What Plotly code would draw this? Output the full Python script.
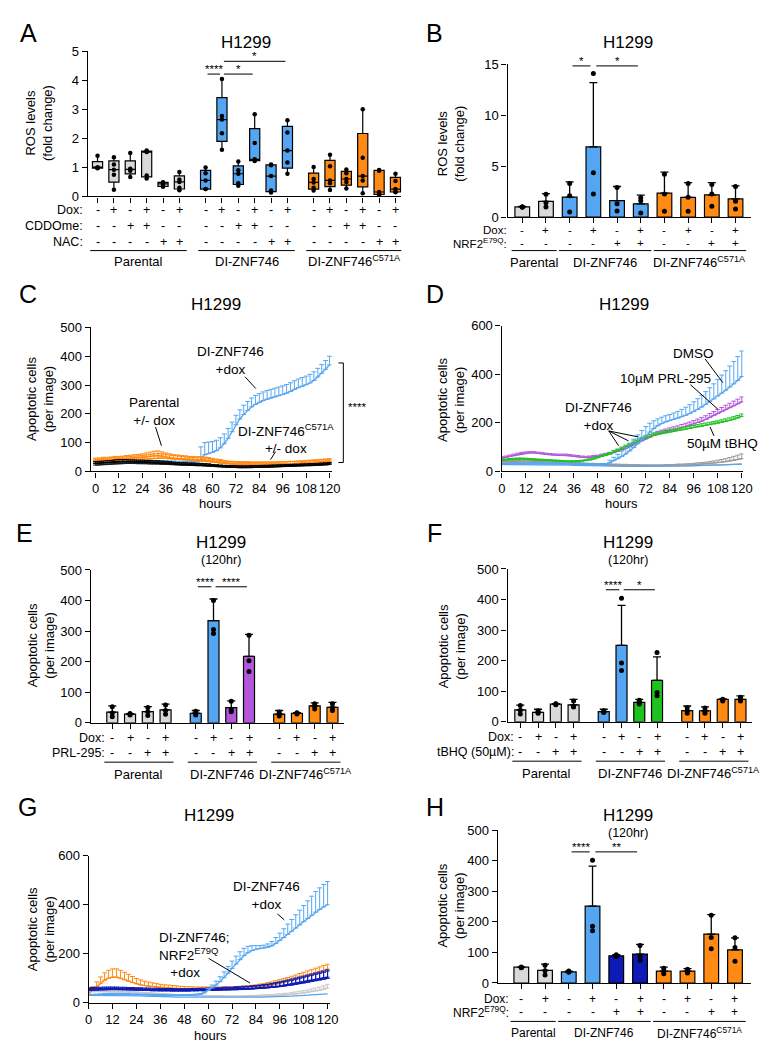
import plotly.graph_objects as go

W, H = 773, 1050
FONT = "Liberation Sans, Arial, Helvetica, sans-serif"

GREY = "#d9d9d9"
BLUE = "#55a6f2"
ORANGE = "#ff8a14"
PURPLE = "#b455dc"
GREEN = "#1ec21e"
DKBLUE = "#0d1ab5"
LGREY = "#c8c8c8"
MGREY = "#9a9a9a"

TICK_FS = 13
ROW_FS = 12.5
GROUP_FS = 13
TITLE_FS = 17
LETTER_FS = 25
YTITLE_FS = 13
LABEL_FS = 13.5

# ---------------- Panel A (box plots) ----------------
A_GROUPS = ["Parental", "DI-ZNF746", "DI-ZNF746<sup>C571A</sup>"]
A_DOX = ["-", "+", "-", "+", "-", "+", "-", "+", "-", "+", "-", "+", "-", "+", "-", "+", "-", "+"]
A_CDDO = ["-", "-", "+", "+", "-", "-", "-", "-", "+", "+", "-", "-", "-", "-", "+", "+", "-", "-"]
A_NAC = ["-", "-", "-", "-", "+", "+", "-", "-", "-", "-", "+", "+", "-", "-", "-", "-", "+", "+"]
A_POINTS = [
    [0.97, 0.98, 1.0, 1.0, 1.40],
    [0.23, 0.75, 0.92, 1.1, 1.35],
    [0.67, 0.88, 0.93, 0.95, 1.50],
    [0.62, 0.72, 1.53, 1.55, 1.58],
    [0.33, 0.36, 0.43, 0.47, 0.49],
    [0.21, 0.30, 0.50, 0.58, 0.84],
    [0.25, 0.25, 0.55, 0.80, 1.00],
    [1.61, 2.18, 2.65, 2.77, 4.05],
    [0.37, 0.45, 0.78, 0.90, 1.20],
    [1.22, 1.25, 1.28, 1.84, 2.83],
    [0.13, 0.20, 0.70, 1.07, 1.10],
    [0.78, 1.17, 1.58, 2.20, 2.63],
    [0.20, 0.30, 0.48, 0.60, 1.01],
    [0.22, 0.45, 0.55, 1.04, 1.44],
    [0.27, 0.50, 0.60, 0.80, 0.93],
    [0.11, 0.55, 0.70, 1.33, 3.01],
    [0.03, 0.10, 0.15, 0.88, 0.91],
    [0.14, 0.16, 0.25, 0.53, 0.78],
]
A_YTICKS = [0, 1, 2, 3, 4, 5]

# ---------------- Panel B (bars) ----------------
B_GROUPS = ["Parental", "DI-ZNF746", "DI-ZNF746<sup>C571A</sup>"]
B_DOX = ["-", "+", "-", "+", "-", "+", "-", "+", "-", "+"]
B_NRF2 = ["-", "-", "-", "-", "+", "+", "-", "-", "+", "+"]
B_MEAN = [1.0, 1.55, 1.95, 6.9, 1.62, 1.3, 2.35, 1.94, 2.17, 1.78]
B_ERR = [0.05, 0.75, 1.5, 6.3, 1.38, 0.85, 2.07, 1.45, 1.22, 1.29]
B_POINTS = [[1.0, 1.0, 1.0], [1.0, 1.4, 2.25], [0.5, 2.1, 3.3], [2.26, 4.35, 14.1], [0.6, 1.3, 2.9],
            [0.4, 1.6, 1.9], [0.58, 2.26, 4.2], [0.58, 1.94, 3.3], [1.06, 2.26, 3.2], [0.8, 1.55, 3.0]]
B_YTICKS = [0, 5, 10, 15]

# ---------------- Panel E ----------------
E_DOX = ["-", "+", "-", "+", "-", "+", "-", "+", "-", "+", "-", "+"]
E_PRL = ["-", "-", "+", "+", "-", "-", "+", "+", "-", "-", "+", "+"]
E_MEAN = [35, 28, 36.6, 42, 31, 334, 49.5, 217, 28, 31, 55, 50.5]
E_ERR = [20, 2, 16, 19, 9, 71, 22, 72, 12, 2, 10, 16]
E_POINTS = [[20, 32, 52], [25, 28, 30], [24, 36, 50], [28, 40, 58], [25, 30, 38], [292, 305, 400],
            [36, 42, 70], [168, 203, 286], [22, 28, 35], [29, 31, 33], [45, 55, 62], [40, 50, 62]]

# ---------------- Panel F ----------------
F_DOX = ["-", "+", "-", "+", "-", "+", "-", "+", "-", "+", "-", "+"]
F_TBHQ = ["-", "-", "+", "+", "-", "-", "+", "+", "-", "-", "+", "+"]
F_MEAN = [38.7, 31, 58, 55, 33, 250, 63.4, 135.5, 36.6, 36, 73, 73]
F_ERR = [16, 10, 1, 18, 8, 131, 10, 77, 15, 13, 2, 12]
F_POINTS = [[25, 38, 53], [28, 30, 36], [56, 58, 59], [48, 50, 68], [30, 33, 36], [168, 192, 404],
            [58, 62, 70], [85, 96, 227], [28, 36, 46], [28, 35, 45], [68, 72, 74], [68, 70, 80]]

# ---------------- Panel H ----------------
H_DOX = ["-", "+", "-", "+", "-", "+", "-", "+", "-", "+"]
H_NRF2 = ["-", "-", "-", "-", "+", "+", "-", "-", "+", "+"]
H_MEAN = [51.6, 41, 36.6, 251.6, 89, 94.6, 38.7, 38.7, 160, 108.6]
H_ERR = [1, 21, 2.5, 131, 3.6, 32, 13, 8, 64, 39]
H_POINTS = [[50, 51, 52], [26, 40, 58], [35, 37, 39], [171, 186, 402], [87, 89, 92], [74, 86, 123],
            [30, 38, 48], [33, 38, 45], [112, 149, 222], [71, 116, 148]]

APOP_YTICKS = [0, 100, 200, 300, 400, 500]
TS_YTICKS = [0, 200, 400, 600]
HOUR_TICKS = [0, 12, 24, 36, 48, 60, 72, 84, 96, 108, 120]
HOURS = list(range(0, 121, 2))

# ---------------- Panel C (time course) ----------------
C_DI_DOX = [32, 33, 34, 35, 36, 36, 37, 37, 38, 38, 38, 37, 37, 36, 36, 35, 35, 34, 34, 33, 33, 32, 32, 32, 31, 31, 32,
            40, 58, 62, 66, 72, 82, 96, 115, 138, 162, 182, 198, 212, 224, 233, 240, 246, 251, 255, 259, 263, 267,
            272, 278, 285, 291, 296, 301, 307, 316, 328, 341, 355, 370]
C_DI_DOX_ERR = [3, 3, 3, 3, 3, 3, 3, 3, 3, 3, 3, 3, 3, 3, 3, 3, 3, 3, 3, 3, 3, 3, 3, 3, 3, 3, 3,
                45, 42, 40, 38, 36, 35, 34, 34, 33, 33, 32, 32, 31, 31, 31, 30, 30, 30, 30, 30, 30, 30, 30, 30,
                30, 30, 30, 30, 30, 30, 30, 30, 30, 30]
C_DI_NODOX = [30, 30, 31, 31, 32, 32, 32, 32, 32, 31, 31, 30, 30, 29, 29, 28, 28, 27, 27, 26, 26, 25, 25, 24, 24, 23,
              23, 22, 22, 21, 21, 20, 20, 19, 19, 18, 18, 18, 18, 18, 18, 18, 19, 19, 19, 20, 20, 20, 21, 21, 21,
              22, 22, 22, 23, 23, 23, 24, 24, 25, 25]
C_PAR_DOX = [38, 39, 40, 40, 41, 42, 42, 43, 44, 45, 46, 47, 48, 50, 52, 54, 55, 53, 50, 48, 46, 45, 44, 43, 42, 42,
             41, 41, 40, 38, 36, 34, 32, 30, 28, 27, 26, 26, 26, 26, 25, 25, 25, 25, 25, 25, 25, 26, 26, 26, 27,
             27, 28, 29, 30, 31, 32, 33, 34, 35, 36]
C_PAR_ERR = [8, 8, 9, 9, 9, 10, 10, 10, 11, 11, 12, 12, 13, 14, 15, 16, 16, 15, 14, 13, 12, 12, 11, 11, 10, 10, 10,
             10, 10, 10, 9, 9, 9, 8, 8, 8, 8, 8, 8, 8, 8, 8, 8, 8, 8, 8, 8, 8, 8, 8, 8, 8, 8, 8, 8, 8, 8, 8, 8,
             8, 8]
C_PAR_NODOX = [34, 35, 36, 37, 38, 39, 39, 40, 40, 41, 41, 42, 42, 43, 44, 45, 46, 46, 45, 44, 43, 42, 41, 40, 39,
               38, 38, 37, 36, 35, 33, 31, 29, 27, 26, 25, 24, 23, 23, 23, 23, 23, 23, 23, 23, 24, 24, 24, 25, 25,
               26, 26, 27, 27, 28, 29, 30, 31, 32, 33, 34]
C_MUT_NODOX = [28, 29, 30, 31, 32, 33, 34, 34, 34, 33, 33, 32, 32, 31, 31, 30, 30, 29, 28, 27, 26, 25, 24, 24, 23,
               23, 22, 22, 21, 20, 19, 18, 17, 16, 15, 15, 14, 14, 14, 14, 15, 15, 15, 16, 16, 17, 17, 18, 18, 19,
               19, 20, 20, 21, 21, 22, 22, 23, 24, 25, 26]
C_MUT_ERR = [6, 6, 6, 6, 6, 7, 7, 7, 7, 7, 7, 7, 7, 7, 7, 7, 7, 7, 7, 7, 6, 6, 6, 6, 6, 6, 6, 6, 6, 6, 5, 5, 5, 5,
             5, 5, 5, 5, 5, 5, 5, 5, 5, 5, 5, 5, 5, 5, 5, 5, 5, 5, 5, 5, 5, 5, 5, 5, 5, 5, 5]
C_MUT_DOX = [22, 23, 24, 25, 26, 27, 27, 28, 28, 28, 28, 27, 27, 27, 26, 26, 26, 25, 25, 24, 24, 23, 22, 22, 21, 21,
             20, 20, 19, 19, 18, 17, 16, 15, 15, 14, 14, 13, 13, 13, 13, 14, 14, 14, 15, 15, 16, 16, 17, 17, 18,
             18, 19, 19, 20, 20, 21, 21, 22, 23, 24]

# ---------------- Panel D (time course) ----------------
D_DMSO = [30, 30, 31, 31, 32, 32, 32, 33, 33, 33, 33, 32, 32, 32, 31, 31, 31, 30, 30, 30, 29, 29, 29, 28, 28, 29, 30,
          36, 44, 52, 62, 72, 84, 98, 114, 130, 146, 162, 176, 188, 197, 204, 209, 214, 219, 225, 231, 238, 246,
          255, 265, 276, 287, 298, 310, 322, 334, 347, 360, 374, 390]
D_DMSO_ERR = [3, 3, 3, 3, 3, 3, 3, 3, 3, 3, 3, 3, 3, 3, 3, 3, 3, 3, 3, 3, 3, 3, 3, 3, 3, 3, 3, 10, 14, 18, 22, 26,
              30, 34, 36, 38, 38, 36, 32, 28, 26, 25, 25, 26, 28, 30, 33, 36, 40, 44, 48, 52, 57, 62, 68, 74, 80,
              86, 92, 98, 105]
D_PRL = [55, 58, 62, 66, 70, 73, 75, 76, 76, 74, 72, 70, 68, 67, 66, 66, 66, 64, 62, 60, 58, 57, 58, 60, 62, 65, 68,
         72, 77, 82, 88, 95, 102, 110, 118, 126, 134, 141, 148, 154, 159, 163, 167, 171, 175, 180, 185, 190, 195,
         201, 207, 214, 222, 230, 238, 246, 254, 262, 270, 278, 286]
D_PRL_ERR = [5, 5, 5, 5, 5, 5, 5, 5, 5, 5, 5, 5, 5, 5, 5, 5, 5, 5, 5, 5, 5, 5, 5, 5, 5, 6, 6, 6, 7, 7, 8, 8, 8, 9, 9,
             9, 10, 10, 10, 11, 11, 11, 12, 12, 12, 13, 13, 13, 14, 14, 15, 15, 16, 16, 17, 17, 18, 18, 19, 19, 20]
D_TBHQ = [45, 47, 49, 50, 51, 51, 50, 49, 48, 47, 46, 45, 44, 43, 42, 41, 40, 40, 40, 41, 42, 44, 47, 51, 56, 61, 66,
          72, 78, 85, 92, 100, 108, 116, 124, 131, 137, 143, 148, 152, 156, 159, 162, 165, 168, 171, 174, 177, 180,
          183, 186, 189, 192, 195, 198, 202, 206, 210, 215, 220, 226]
D_TBHQ_ERR = [4, 4, 4, 4, 4, 4, 4, 4, 4, 4, 4, 4, 4, 4, 4, 4, 4, 4, 4, 4, 4, 4, 5, 5, 5, 6, 6, 6, 7, 7, 8, 8, 8, 9,
              9, 9, 9, 9, 9, 9, 9, 9, 9, 9, 9, 9, 9, 9, 9, 9, 10, 10, 10, 10, 10, 10, 10, 10, 10, 10, 10]
D_GREY1 = [40, 40, 41, 42, 42, 43, 43, 43, 42, 42, 41, 41, 40, 39, 38, 37, 36, 35, 34, 33, 32, 31, 30, 30, 29, 29, 28,
           28, 27, 27, 26, 26, 25, 25, 25, 24, 24, 24, 24, 24, 24, 25, 25, 25, 26, 26, 27, 27, 28, 29, 30, 31, 32,
           34, 36, 38, 40, 43, 46, 49, 52]
D_GREY1_ERR = [3, 3, 3, 3, 3, 3, 3, 3, 3, 3, 3, 3, 3, 3, 3, 3, 3, 3, 3, 3, 3, 3, 3, 3, 3, 3, 3, 3, 3, 3, 3, 3, 3, 3,
               3, 3, 3, 3, 3, 3, 3, 3, 3, 3, 4, 4, 4, 5, 5, 6, 6, 7, 8, 9, 10, 11, 12, 14, 16, 18, 20]
D_GREY2 = [35, 36, 37, 38, 38, 39, 39, 39, 38, 38, 37, 37, 36, 35, 34, 33, 32, 31, 30, 29, 28, 27, 27, 26, 26, 25, 25,
           24, 24, 23, 23, 22, 22, 22, 21, 21, 21, 21, 21, 21, 21, 22, 22, 22, 23, 23, 23, 24, 24, 24, 25, 25, 26,
           26, 27, 27, 28, 28, 29, 29, 30]
D_BLUE_NODOX = [28, 28, 28, 29, 29, 29, 29, 29, 29, 28, 28, 28, 27, 27, 27, 26, 26, 26, 25, 25, 25, 24, 24, 24, 23,
                23, 23, 22, 22, 22, 21, 21, 21, 20, 20, 20, 20, 20, 20, 21, 21, 21, 22, 22, 22, 23, 23, 23, 24, 24,
                25, 25, 26, 26, 27, 27, 28, 28, 29, 29, 30]

# ---------------- Panel G (time course) ----------------
G_DI = [30, 31, 32, 33, 34, 35, 35, 35, 35, 34, 34, 33, 33, 32, 32, 31, 31, 30, 30, 30, 29, 29, 29, 29, 30, 30, 31,
        32, 34, 40, 50, 60, 72, 86, 102, 120, 140, 158, 176, 192, 204, 213, 218, 221, 223, 226, 232, 242, 254, 266,
        279, 292, 305, 318, 331, 344, 357, 370, 381, 391, 400]
G_DI_ERR = [3, 3, 3, 3, 3, 3, 3, 3, 3, 3, 3, 3, 3, 3, 3, 3, 3, 3, 3, 3, 3, 3, 3, 3, 3, 3, 3, 3, 3, 5, 8, 12, 16, 20,
            24, 28, 30, 32, 32, 30, 26, 20, 15, 12, 12, 14, 18, 24, 30, 36, 42, 48, 54, 60, 66, 72, 78, 84, 88, 92,
            95]
G_MUT = [40, 50, 65, 80, 92, 100, 104, 104, 100, 94, 88, 82, 77, 73, 70, 68, 66, 64, 62, 61, 60, 59, 58, 57, 56, 55,
         55, 54, 54, 54, 54, 54, 54, 54, 55, 55, 55, 56, 57, 58, 59, 60, 62, 64, 66, 69, 72, 76, 80, 84, 88, 92, 97,
         102, 107, 112, 117, 122, 127, 132, 137]
G_MUT_ERR = [10, 15, 20, 25, 30, 32, 34, 34, 32, 30, 28, 25, 22, 20, 18, 16, 15, 14, 13, 12, 12, 11, 11, 10, 10, 10,
             10, 10, 10, 10, 10, 10, 10, 10, 10, 10, 10, 10, 10, 10, 10, 11, 11, 12, 12, 13, 13, 14, 14, 15, 15, 16,
             16, 17, 17, 18, 18, 19, 19, 20, 20]
G_NRF2_DOX = [55, 56, 57, 57, 58, 58, 58, 58, 57, 57, 56, 56, 55, 55, 54, 54, 53, 53, 52, 52, 52, 52, 51, 51, 51, 51,
              52, 52, 53, 53, 53, 53, 54, 54, 55, 55, 55, 56, 56, 57, 57, 58, 59, 60, 61, 62, 64, 66, 68, 71, 74, 77,
              80, 83, 86, 89, 92, 95, 98, 101, 104]
G_NRF2_ERR = [6, 6, 6, 6, 6, 6, 6, 6, 6, 6, 6, 6, 6, 6, 6, 6, 6, 6, 6, 6, 6, 6, 6, 6, 6, 6, 6, 6, 6, 6, 7, 7, 7, 7,
              8, 8, 8, 9, 9, 10, 10, 11, 11, 12, 13, 14, 15, 16, 17, 18, 19, 20, 21, 22, 23, 24, 25, 26, 27, 28, 30]
G_NRF2_NODOX = [50, 51, 52, 53, 53, 54, 54, 54, 53, 53, 52, 52, 51, 51, 50, 50, 49, 49, 48, 48, 48, 47, 47, 47, 47,
                47, 48, 48, 49, 49, 50, 50, 51, 51, 52, 52, 53, 53, 54, 54, 55, 56, 57, 58, 59, 60, 62, 64, 66, 68,
                70, 72, 75, 78, 81, 84, 87, 90, 93, 96, 99]
G_GREY = [45, 45, 46, 46, 46, 46, 45, 45, 44, 44, 43, 42, 41, 40, 39, 38, 37, 36, 35, 34, 33, 32, 31, 30, 30, 29, 29,
          28, 28, 27, 27, 26, 26, 26, 25, 25, 25, 25, 25, 25, 26, 26, 26, 27, 27, 28, 28, 29, 30, 31, 32, 34, 36,
          38, 40, 42, 45, 48, 51, 55, 60]
G_GREY_ERR = [3, 3, 3, 3, 3, 3, 3, 3, 3, 3, 3, 3, 3, 3, 3, 3, 3, 3, 3, 3, 3, 3, 3, 3, 3, 3, 3, 3, 3, 3, 3, 3, 3, 3,
              3, 3, 3, 3, 3, 3, 3, 4, 4, 4, 5, 5, 5, 6, 6, 7, 7, 8, 8, 9, 9, 10, 11, 12, 13, 14, 15]
G_BLUE_NODOX = [30, 30, 31, 31, 31, 31, 31, 30, 30, 30, 29, 29, 28, 28, 27, 27, 26, 26, 25, 25, 24, 24, 23, 23, 22,
                22, 22, 21, 21, 21, 20, 20, 20, 20, 20, 20, 20, 21, 21, 21, 22, 22, 22, 23, 23, 24, 24, 25, 25, 26,
                27, 27, 28, 29, 30, 31, 32, 33, 34, 35, 36]


# ====================== helpers ======================
def fx(px):
    return px / W


def fy(py):
    return 1 - py / H


fig = go.Figure()
shapes = []
annotations = []


def sfx(n):
    return "" if n == 1 else str(n)


def txt(text, xpx, ypx, size=12.5, xanchor="center", yanchor="middle", **kw):
    d = dict(text=text, x=fx(xpx), y=fy(ypx), xref="paper", yref="paper", showarrow=False,
             font=dict(size=size, family=FONT, color="black"), xanchor=xanchor, yanchor=yanchor)
    d.update(kw)
    annotations.append(d)


def seg(x0, y0, x1, y1, w=1.0):
    shapes.append(dict(type="line", xref="paper", yref="paper", x0=fx(x0), y0=fy(y0), x1=fx(x1), y1=fy(y1),
                       line=dict(color="black", width=w)))


AX = dict(showline=True, linecolor="black", linewidth=1.3, ticks="outside", ticklen=5, tickwidth=1.3,
          tickcolor="black", showgrid=False, zeroline=False, fixedrange=True, tickangle=0,
          tickfont=dict(size=TICK_FS, family=FONT, color="black"))


def setup_axis(n, xdom, ydom, xrange, yrange, xtickvals, ytickvals, xlabels):
    s = sfx(n)
    fig.update_layout(**{
        "xaxis" + s: dict(AX, domain=[fx(xdom[0]), fx(xdom[1])], range=xrange, anchor="y" + s,
                          tickmode="array", tickvals=xtickvals, showticklabels=xlabels),
        "yaxis" + s: dict(AX, domain=[fy(ydom[0]), fy(ydom[1])], range=yrange, anchor="x" + s,
                          tickmode="array", tickvals=ytickvals),
    })


def cat_range(dom, first_px, slot_px):
    return [(dom[0] - first_px) / slot_px, (dom[1] - first_px) / slot_px]


def add_rows(n, pos, rows, label_right_px, size=ROW_FS):
    s = sfx(n)
    for label, signs, py in rows:
        txt(label, label_right_px, py, size=size, xanchor="right")
        for p, sg in zip(pos, signs):
            annotations.append(dict(text=sg, x=p, xref="x" + s, y=fy(py), yref="paper", showarrow=False,
                                    font=dict(size=size, family=FONT, color="black"),
                                    xanchor="center", yanchor="middle"))


def add_groups(n, pos, sizes, names, line_py, label_py, size=GROUP_FS):
    s = sfx(n)
    idx = 0
    for sz, name in zip(sizes, names):
        a, b = pos[idx], pos[idx + sz - 1]
        shapes.append(dict(type="line", xref="x" + s, yref="paper", x0=a - 0.45, x1=b + 0.45,
                           y0=fy(line_py), y1=fy(line_py), line=dict(color="black", width=1)))
        annotations.append(dict(text=name, x=(a + b) / 2, xref="x" + s, y=fy(label_py), yref="paper",
                                showarrow=False, font=dict(size=size, family=FONT, color="black"),
                                xanchor="center", yanchor="middle"))
        idx += sz


def add_sig(n, pos, sigs):
    s = sfx(n)
    for a, b, yv, star in sigs:
        shapes.append(dict(type="line", xref="x" + s, yref="y" + s, x0=pos[a] + 0.12, x1=pos[b] - 0.12,
                           y0=yv, y1=yv, line=dict(color="black", width=1)))
        annotations.append(dict(text=star, x=(pos[a] + pos[b]) / 2, xref="x" + s, y=yv, yref="y" + s,
                                showarrow=False, font=dict(size=11.5, family=FONT, color="black"),
                                xanchor="center", yanchor="bottom", yshift=-3))


def add_bars(n, pos, means, errs, points, colors):
    s = sfx(n)
    fig.add_trace(go.Bar(x=pos, y=means, xaxis="x" + s, yaxis="y" + s, width=0.62,
                         marker=dict(color=colors, line=dict(color="black", width=1.2)),
                         error_y=dict(type="data", array=errs, arrayminus=[0] * len(errs), symmetric=False,
                                      color="black", thickness=1.3, width=4),
                         showlegend=False, hoverinfo="skip"))
    px_, py_ = [], []
    for p, pts in zip(pos, points):
        for v in pts:
            px_.append(p)
            py_.append(v)
    fig.add_trace(go.Scatter(x=px_, y=py_, xaxis="x" + s, yaxis="y" + s, mode="markers",
                             marker=dict(color="black", size=5), cliponaxis=False, showlegend=False,
                             hoverinfo="skip"))


def add_line(n, vals, color, err=None, width=1.3):
    s = sfx(n)
    x = HOURS[:len(vals)]
    kw = {}
    if err is not None:
        kw["error_y"] = dict(type="data", array=err, arrayminus=[0] * len(err), symmetric=False,
                             color=color, thickness=1, width=2.5)
    fig.add_trace(go.Scatter(x=x, y=vals, xaxis="x" + s, yaxis="y" + s, mode="lines",
                             line=dict(color=color, width=width), showlegend=False, hoverinfo="skip", **kw))


# ====================== Panel A ======================
A_POS = [i + g * 6.6 for g in range(3) for i in range(6)]
setup_axis(1, (77, 396), (184, 37), cat_range((77, 396), 87, 16.65), [0, 5], A_POS, A_YTICKS, False)
for gi, col in enumerate([GREY, BLUE, ORANGE]):
    xs, ys = [], []
    for k in range(gi * 6, gi * 6 + 6):
        for v in A_POINTS[k]:
            xs.append(A_POS[k])
            ys.append(v)
    fig.add_trace(go.Box(x=xs, y=ys, xaxis="x", yaxis="y", boxpoints="all", jitter=0, pointpos=0,
                         fillcolor=col, line=dict(color="black", width=1.2),
                         marker=dict(color="black", size=4.5), width=0.62, whiskerwidth=0,
                         quartilemethod="exclusive", showlegend=False, hoverinfo="skip"))
add_rows(1, A_POS, [("Dox:", A_DOX, 198), ("CDDOme:", A_CDDO, 214), ("NAC:", A_NAC, 230)], 74)
add_groups(1, A_POS, [6, 6, 6], A_GROUPS, 239, 250)
add_sig(1, A_POS, [(6, 7, 4.22, "****"), (7, 9, 4.22, "*"), (7, 11, 4.66, "*")])
txt("A", 17, 18, size=LETTER_FS)
txt("H1299", 238, 28, size=TITLE_FS)
txt("ROS levels<br>(fold change)", 28, 110, size=YTITLE_FS, textangle=-90)

# ====================== Panel B ======================
B_POS = list(range(10))
setup_axis(2, (504, 752), (205, 50), cat_range((504, 752), 519, 24.1), [0, 15], B_POS, B_YTICKS, False)
B_COLORS = [GREY, GREY, BLUE, BLUE, BLUE, BLUE, ORANGE, ORANGE, ORANGE, ORANGE]
add_bars(2, B_POS, B_MEAN, B_ERR, B_POINTS, B_COLORS)
add_rows(2, B_POS, [("Dox:", B_DOX, 218), ("NRF2<sup>E79Q</sup>:", B_NRF2, 231)], 506, size=11.5)
add_groups(2, B_POS, [2, 4, 4], B_GROUPS, 239, 251)
add_sig(2, B_POS, [(2, 3, 14.84, "*"), (3, 5, 14.84, "*")])
txt("B", 430, 18, size=LETTER_FS)
txt("H1299", 627, 28, size=TITLE_FS)
txt("ROS levels<br>(fold change)", 447, 130, size=YTITLE_FS, textangle=-90)

# ====================== Panel C ======================
C_PXH = 1.983
setup_axis(3, (80, 325), (463, 317), [(80 - 85) / C_PXH, (325 - 85) / C_PXH], [0, 500], HOUR_TICKS,
           APOP_YTICKS, True)
add_line(3, C_DI_NODOX, BLUE)
add_line(3, C_DI_DOX, BLUE, C_DI_DOX_ERR)
add_line(3, C_PAR_NODOX, ORANGE, C_PAR_ERR)
add_line(3, C_PAR_DOX, ORANGE, C_PAR_ERR)
add_line(3, C_MUT_DOX, "#1a1a1a", C_MUT_ERR)
add_line(3, C_MUT_NODOX, "black", C_MUT_ERR)
txt("C", 16, 283, size=LETTER_FS)
txt("H1299", 207, 294, size=TITLE_FS)
txt("Apoptotic cells<br>(per image)", 29, 390, size=YTITLE_FS, textangle=-90)
txt("hours", 207, 496, size=TICK_FS)
txt("DI-ZNF746<br>+dox", 222, 351, size=LABEL_FS)
seg(237, 367, 248, 379)
txt("Parental<br>+/- dox", 144, 402, size=LABEL_FS)
seg(146, 418, 152, 437)
txt("DI-ZNF746<sup>C571A</sup><br>+/- dox", 279, 430, size=LABEL_FS)
seg(268, 443, 263, 451)
seg(337, 353, 337, 454)
seg(332, 353, 337, 353)
seg(332, 454, 337, 454)
txt("****", 351, 398, size=11.5)

# ====================== Panel D ======================
D_PXH = 2.033
setup_axis(4, (498, 744), (463, 315), [(498 - 498.3) / D_PXH, (744 - 498.3) / D_PXH], [0, 600], HOUR_TICKS,
           TS_YTICKS, True)
add_line(4, D_GREY2, MGREY)
add_line(4, D_GREY1, MGREY, D_GREY1_ERR)
add_line(4, D_BLUE_NODOX, BLUE)
add_line(4, D_PRL, PURPLE, D_PRL_ERR)
add_line(4, D_TBHQ, GREEN, D_TBHQ_ERR)
add_line(4, D_DMSO, BLUE, D_DMSO_ERR)
txt("D", 430, 283, size=LETTER_FS)
txt("H1299", 622, 294, size=TITLE_FS)
txt("Apoptotic cells<br>(per image)", 447, 390, size=YTITLE_FS, textangle=-90)
txt("hours", 620, 496, size=TICK_FS)
txt("DMSO", 693, 343, size=LABEL_FS)
seg(705, 349, 723, 373)
txt("10µM PRL-295", 665, 369, size=LABEL_FS)
seg(690, 375, 718, 400)
txt("DI-ZNF746<br>+dox", 597, 407, size=LABEL_FS)
seg(607, 422, 617, 437)
seg(607, 422, 627, 432)
seg(607, 422, 637, 428)
txt("50µM tBHQ", 723, 435, size=LABEL_FS)
seg(710, 418, 714, 427)

# ====================== Panel E ======================
E_POS = [i + g * 4.7 for g in range(3) for i in range(4)]
setup_axis(5, (80, 338), (718, 563), cat_range((80, 338), 102, 18.06), [0, 500], E_POS, APOP_YTICKS, False)
E_COLORS = [GREY, GREY, GREY, GREY, BLUE, BLUE, PURPLE, PURPLE, ORANGE, ORANGE, ORANGE, ORANGE]
add_bars(5, E_POS, E_MEAN, E_ERR, E_POINTS, E_COLORS)
add_rows(5, E_POS, [("Dox:", E_DOX, 733), ("PRL-295:", E_PRL, 749)], 97)
add_groups(5, E_POS, [4, 4, 4], A_GROUPS, 758, 770)
add_sig(5, E_POS, [(4, 5, 445, "****"), (5, 7, 445, "****")])
txt("E", 13, 526, size=LETTER_FS)
txt("H1299", 213, 535, size=TITLE_FS)
txt("(120hr)", 213, 553, size=12.5)
txt("Apoptotic cells<br>(per image)", 29, 640, size=YTITLE_FS, textangle=-90)

# ====================== Panel F ======================
setup_axis(6, (504, 753), (717, 562), cat_range((504, 753), 517, 18.06), [0, 500], E_POS, APOP_YTICKS, False)
F_COLORS = [GREY, GREY, GREY, GREY, BLUE, BLUE, GREEN, GREEN, ORANGE, ORANGE, ORANGE, ORANGE]
add_bars(6, E_POS, F_MEAN, F_ERR, F_POINTS, F_COLORS)
add_rows(6, E_POS, [("Dox:", F_DOX, 732), ("tBHQ (50µM):", F_TBHQ, 748)], 513)
add_groups(6, E_POS, [4, 4, 4], A_GROUPS, 757, 769)
add_sig(6, E_POS, [(4, 5, 432, "****"), (5, 7, 432, "*")])
txt("F", 430, 526, size=LETTER_FS)
txt("H1299", 627, 535, size=TITLE_FS)
txt("(120hr)", 627, 553, size=12.5)
txt("Apoptotic cells<br>(per image)", 447, 640, size=YTITLE_FS, textangle=-90)

# ====================== Panel G ======================
G_PXH = 2.025
setup_axis(7, (78, 323), (1002, 853), [0, (323 - 78) / G_PXH], [0, 600], HOUR_TICKS, TS_YTICKS, True)
add_line(7, G_GREY, LGREY, G_GREY_ERR)
add_line(7, G_BLUE_NODOX, BLUE)
add_line(7, G_MUT, ORANGE, G_MUT_ERR)
add_line(7, G_NRF2_NODOX, DKBLUE, G_NRF2_ERR)
add_line(7, G_NRF2_DOX, DKBLUE, G_NRF2_ERR)
add_line(7, G_DI, BLUE, G_DI_ERR)
txt("G", 16, 803, size=LETTER_FS)
txt("H1299", 200, 812, size=TITLE_FS)
txt("Apoptotic cells<br>(per image)", 29, 928, size=YTITLE_FS, textangle=-90)
txt("hours", 202, 1035, size=TICK_FS)
txt("DI-ZNF746<br>+dox", 259, 893, size=LABEL_FS)
seg(270, 912, 277, 918)
txt("DI-ZNF746;<br>NRF2<sup>E79Q</sup><br>   +dox", 147, 954, size=LABEL_FS, xanchor="left", align="left")
seg(200, 957, 242, 982)

# ====================== Panel H ======================
H_POS = list(range(10))
setup_axis(8, (494, 752), (982, 827), cat_range((494, 752), 518, 24.15), [0, 500], H_POS, APOP_YTICKS, False)
H_COLORS = [GREY, GREY, BLUE, BLUE, DKBLUE, DKBLUE, ORANGE, ORANGE, ORANGE, ORANGE]
add_bars(8, H_POS, H_MEAN, H_ERR, H_POINTS, H_COLORS)
add_rows(8, H_POS, [("Dox:", H_DOX, 998), ("NRF2<sup>E79Q</sup>:", H_NRF2, 1011)], 508, size=12)
add_groups(8, H_POS, [2, 4, 4], A_GROUPS, 1021, 1033, size=12)
add_sig(8, H_POS, [(2, 3, 429, "****"), (3, 5, 429, "**")])
txt("H", 430, 803, size=LETTER_FS)
txt("H1299", 627, 812, size=TITLE_FS)
txt("(120hr)", 627, 830, size=12.5)
txt("Apoptotic cells<br>(per image)", 447, 903, size=YTITLE_FS, textangle=-90)

fig.update_layout(width=W, height=H, margin=dict(l=0, r=0, t=0, b=0), autosize=False,
                  paper_bgcolor="white", plot_bgcolor="white", showlegend=False,
                  font=dict(family=FONT, color="black"), shapes=shapes, annotations=annotations,
                  barmode="overlay", boxmode="overlay")

fig.write_html("out.html")
